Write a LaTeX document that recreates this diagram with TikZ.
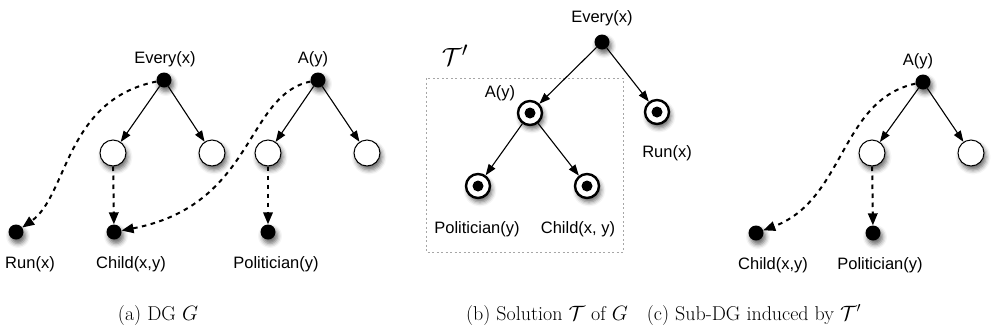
\documentclass[tikz,border=0pt]{standalone}
\usepackage{fontspec}
\newfontfamily\labfont{Liberation Sans}
\usetikzlibrary{arrows.meta,shadows.blur}
\begin{document}
\begin{tikzpicture}[x=1pt,y=-1pt,
  shd/.style={blur shadow={shadow xshift=2pt,shadow yshift=-4pt,shadow blur radius=4.5pt,shadow opacity=60}},
  bdot/.style={circle,fill=black,minimum size=15pt,inner sep=0pt,shd},
  wcirc/.style={circle,draw,fill=white,line width=1pt,minimum size=26pt,inner sep=0pt,shd},
  dcirc/.style={circle,draw,fill=white,line width=2.4pt,minimum size=24pt,inner sep=0pt,shd,
     path picture={\fill[black] (path picture bounding box.center) circle (5.5pt);}},
  lab/.style={anchor=base,inner sep=0pt,font=\labfont\fontsize{16.5}{19}\selectfont},
  captxt/.style={anchor=base,inner sep=0pt,font=\fontsize{20}{23}\selectfont},
  sarr/.style={line width=1.1pt,-{Triangle[length=11pt,width=8pt]}},
  darr/.style={line width=2pt,dash pattern=on 4.5pt off 4.5pt,-{Triangle[length=12pt,width=9.5pt]}}]
\useasboundingbox (0,0) rectangle (991,333);
% ---------- panel (a)
\node[bdot] (aE) at (164,80) {};
\node[bdot] (aA) at (318,80) {};
\node[wcirc] (a1) at (113,153) {};
\node[wcirc] (a2) at (212,153) {};
\node[wcirc] (a3) at (268,153) {};
\node[wcirc] (a4) at (367,153) {};
\node[bdot] (aRun) at (16,232) {};
\node[bdot] (aChild) at (114,232) {};
\node[bdot] (aPol) at (268,232) {};
\node[lab] (laE) at (165,63) {Every(x)};
\node[lab] (laA) at (313,63) {A(y)};
\node[lab] (laRun) at (30,268) {Run(x)};
\node[lab] (laChild) at (131,268) {Child(x,y)};
\node[lab] (laPol) at (276,268) {Politician(y)};
\draw[sarr] (aE) -- (a1);
\draw[sarr] (aE) -- (a2);
\draw[sarr] (aA) -- (a3);
\draw[sarr] (aA) -- (a4);
\draw[darr] (a1) -- (aChild);
\draw[darr] (a3) -- (aPol);
\draw[darr] (aE) .. controls (65,100) and (68,195) .. (aRun);
\draw[darr] (aA) .. controls (245,95) and (255,205) .. (aChild);
% ---------- panel (b)
\draw[gray!70,line width=0.8pt,dash pattern=on 2pt off 2.5pt] (426,78) rectangle (623,252);
\node[anchor=center,inner sep=0pt,font=\fontsize{28}{30}\selectfont] (tp) at (455,55) {$\mathcal{T}'$};
\node[bdot] (bE) at (602,42) {};
\node[dcirc] (bA) at (530,113) {};
\node[dcirc] (bRun) at (657,112) {};
\node[dcirc] (bPol) at (478,186) {};
\node[dcirc] (bChild) at (587,186) {};
\node[lab] (lbE) at (602,22) {Every(x)};
\node[lab] (lbA) at (500,97) {A(y)};
\node[lab] (lbRun) at (667,157) {Run(x)};
\node[lab] (lbPol) at (477,233) {Politician(y)};
\node[lab] (lbChild) at (578,233) {Child(x, y)};
\draw[sarr] (bE) -- (bA);
\draw[sarr] (bE) -- (bRun);
\draw[sarr] (bA) -- (bPol);
\draw[sarr] (bA) -- (bChild);
% ---------- panel (c)
\node[bdot] (cA) at (923,82) {};
\node[wcirc] (c1) at (872,153) {};
\node[wcirc] (c2) at (971,153) {};
\node[bdot] (cChild) at (756,233) {};
\node[bdot] (cPol) at (873,233) {};
\node[lab] (lcA) at (918,65) {A(y)};
\node[lab] (lcChild) at (773,269) {Child(x,y)};
\node[lab] (lcPol) at (880,269) {Politician(y)};
\draw[sarr] (cA) -- (c1);
\draw[sarr] (cA) -- (c2);
\draw[darr] (c1) -- (cPol);
\draw[darr] (cA) .. controls (840,100) and (845,200) .. (cChild);
% ---------- captions
\node[captxt] (capa) at (158,320) {(a) DG $G$};
\node[captxt] (capb) at (547,320) {(b) Solution $\mathcal{T}$ of $G$};
\node[captxt] (capc) at (754,320) {(c) Sub-DG induced by $\mathcal{T}'$};
\end{tikzpicture}
\end{document}
